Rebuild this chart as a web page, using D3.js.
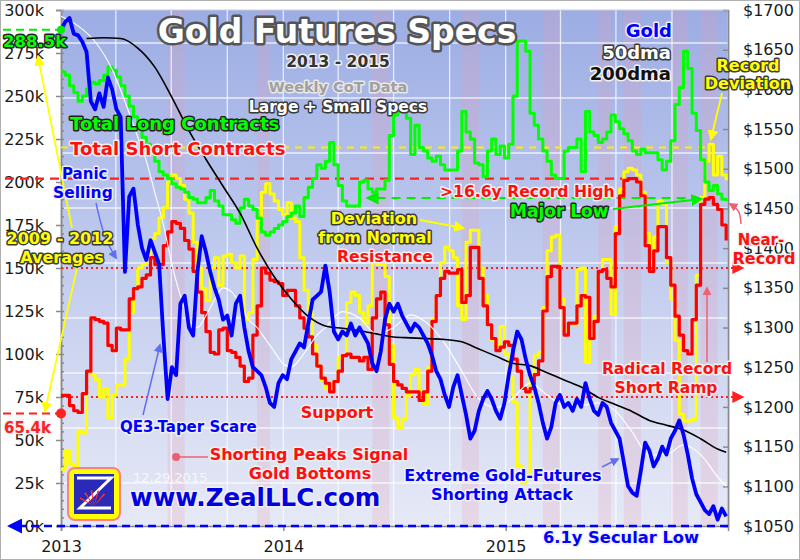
<!DOCTYPE html>
<html>
<head>
<meta charset="utf-8">
<script src="https://cdnjs.cloudflare.com/ajax/libs/d3/7.8.5/d3.min.js"></script>
<style>
  body { margin: 0; background: #fff; }
  svg { display: block; }
</style>
</head>
<body>
<svg id="chart" width="800" height="560"></svg>
<script>
// weekly CoT data (thousands of contracts), one value a week from 2013-01-01
const weekStart = new Date(2013, 0, 1);
const longs = [264,262,256,252,247,250,254,258,257,259,
  262,267,265,261,256,250,244,238,232,226,
  222,220,212,206,204,202,199,197,196,194,
  191,190,188,188,191,195,189,186,181,181,
  178,176,185,190,186,184,179,171,169,171,
  173,175,177,180,182,186,180,191,197,202,
  210,208,212,223,210,198,189,186,186,186,
  200,201,196,194,196,196,201,227,239,245,
  243,237,216,233,220,218,214,212,215,210,
  207,207,207,218,241,229,225,211,210,203,
  218,225,216,221,214,222,250,282,282,276,
  240,233,225,218,212,204,202,202,218,220,
  220,225,206,241,229,227,223,225,229,239,
  235,231,228,224,218,216,219,217,217,217,
  213,207,212,224,245,255,276,266,240,230,
  213,200,195,198,193,190,189];
const shorts = [76,76,70,67,66,77,90,121,120,119,
  118,105,102,115,114,114,132,138,139,144,
  146,156,152,152,163,171,177,176,173,166,
  161,148,136,124,113,101,100,114,115,102,
  101,98,93,84,86,111,128,150,147,143,
  142,141,134,137,137,128,121,115,110,100,
  93,86,83,78,84,90,99,100,98,98,
  96,98,91,121,132,136,117,94,84,82,
  80,78,78,78,73,78,90,119,134,144,
  148,147,147,149,130,134,162,162,144,128,
  117,109,102,104,107,105,97,90,80,78,
  80,88,96,125,145,151,151,127,111,118,
  118,128,134,133,109,119,148,149,144,139,
  170,192,201,202,202,200,192,163,148,160,
  174,174,156,140,122,111,102,100,120,140,
  187,190,191,187,184,175,166];
const deviation = [33,44,36,34,55,54,90,88,85,75,
  80,63,76,82,82,97,124,138,150,152,
  157,167,170,179,185,200,204,202,198,190,
  182,165,150,138,131,150,156,140,157,158,
  153,150,157,120,124,155,178,194,199,193,
  189,184,181,188,179,177,156,137,125,105,
  93,85,80,78,84,98,99,130,136,134,
  124,118,128,153,152,152,145,105,63,57,
  62,76,88,91,78,71,92,120,134,153,
  162,160,156,128,120,165,172,172,150,134,
  117,108,105,116,100,87,72,35,25,30,
  88,99,101,127,160,168,169,132,114,118,
  117,149,150,95,110,122,148,155,155,123,
  174,196,206,208,207,204,194,170,154,168,
  189,187,153,132,108,65,61,61,62,146,
  191,212,222,204,215,204,201];
// gold price ($), weekly
const gold = [1675,1685,1690,1670,1668,1660,1647,1585,1575,1595,
  1578,1615,1600,1575,1565,1370,1465,1475,1430,1400,
  1385,1410,1395,1380,1290,1210,1250,1240,1330,1340,
  1300,1290,1370,1415,1395,1370,1350,1335,1310,1315,
  1290,1330,1340,1300,1270,1250,1245,1240,1225,1205,
  1200,1230,1240,1235,1260,1270,1280,1275,1305,1335,
  1340,1345,1378,1345,1295,1285,1295,1290,1305,1290,
  1300,1290,1280,1255,1245,1270,1310,1330,1320,1330,
  1315,1305,1295,1305,1300,1290,1280,1265,1245,1235,
  1215,1200,1225,1240,1215,1190,1160,1170,1195,1210,
  1220,1210,1195,1185,1205,1240,1270,1295,1285,1260,
  1240,1225,1205,1180,1160,1175,1205,1215,1200,1205,
  1195,1210,1200,1230,1210,1195,1190,1205,1200,1180,
  1170,1160,1130,1100,1092,1088,1120,1155,1145,1125,
  1135,1150,1140,1160,1170,1183,1165,1140,1110,1090,
  1080,1070,1065,1075,1058,1072,1062];
// moving averages, read at these week numbers
const ma50Weeks = [0,4,8,12,16,18,20,22,24,26,28,30,32,34,36,38,40,42,44,46,48,50,52,54,56,58,60,62,66,70,74,78,82,86,90,94,98,102,106,110,114,118,122,126,130,134,138,142,146,150,154,156];
const ma50 = [1692,1680,1660,1625,1570,1540,1510,1470,1430,1380,1340,1310,1300,1315,1335,1350,1345,1330,1310,1300,1285,1270,1255,1250,1260,1275,1290,1300,1320,1312,1292,1300,1316,1305,1280,1245,1210,1199,1211,1230,1215,1202,1202,1205,1195,1168,1139,1140,1152,1140,1112,1100];
const ma200Weeks = [6,10,14,18,22,26,30,34,38,42,46,50,54,58,62,66,70,74,78,82,86,90,94,98,102,106,110,114,118,122,126,130,134,138,142,146,150,154,156];
const ma200 = [1664,1665,1664,1652,1628,1590,1548,1512,1478,1444,1400,1364,1336,1314,1302,1299,1296,1292,1288,1287,1286,1285,1282,1273,1264,1255,1252,1243,1234,1225,1212,1203,1194,1183,1177,1171,1160,1147,1143];
// shorting-peak highlight bands (start week, end week)
const peakBands = [[25,29],[46,49],[73,77],[94,98],[113,117],[126,129],[132,136],[143,147],[150,154]];
const leftTicks = d3.range(0, 301, 25);
const rightTicks = d3.range(1050, 1701, 50);
const yearTicks = [2013, 2014, 2015];

const svg = d3.select('#chart');
const m = {left: 61, right: 728, top: 10, bottom: 526};
const wk = i => d3.timeDay.offset(weekStart, 7 * i);
const x = d3.scaleTime().domain([new Date(2013, 0, 1), new Date(2016, 0, 1)]).range([m.left, m.right]);
const yL = d3.scaleLinear().domain([0, 300]).range([m.bottom, m.top]);
const yR = d3.scaleLinear().domain([1050, 1700]).range([m.bottom, m.top]);

const defs = svg.append('defs');
const grad = defs.append('linearGradient').attr('id', 'bg').attr('x1', 0).attr('y1', 0).attr('x2', 0).attr('y2', 1);
grad.append('stop').attr('offset', '0%').attr('stop-color', '#9cade4');
grad.append('stop').attr('offset', '50%').attr('stop-color', '#c2ccee');
grad.append('stop').attr('offset', '100%').attr('stop-color', '#e6e9f6');

function marker(id, color) {
  defs.append('marker').attr('id', id).attr('viewBox', '0 0 10 10')
    .attr('refX', 8).attr('refY', 5).attr('markerWidth', 6).attr('markerHeight', 6)
    .attr('orient', 'auto-start-reverse')
    .append('path').attr('d', 'M0,0L10,5L0,10z').attr('fill', color);
}
marker('aY', '#ffff00');
marker('aR', '#ff2020');
marker('aRp', '#f06070');
marker('aG', '#00ee00');
marker('aB', '#6070ee');
marker('aBd', '#0000ff');

svg.append('rect').attr('x', 0.5).attr('y', 0.5).attr('width', 799).attr('height', 559)
  .attr('fill', '#fff').attr('stroke', '#b0b0b0');

// plot background
svg.append('rect').attr('x', m.left).attr('y', m.top)
  .attr('width', m.right - m.left).attr('height', m.bottom - m.top).attr('fill', 'url(#bg)');

svg.append('g').selectAll('rect').data(peakBands).enter().append('rect')
  .attr('x', d => x(wk(d[0])))
  .attr('width', d => x(wk(d[1])) - x(wk(d[0])))
  .attr('y', m.top).attr('height', m.bottom - m.top)
  .attr('fill', '#e89ab0').attr('opacity', 0.22);

// grid
const grid = svg.append('g').attr('stroke', '#ffffff').attr('stroke-opacity', 0.75).attr('stroke-width', 1.3);
grid.selectAll('.v').data(x.ticks(d3.timeMonth.every(3))).enter().append('line')
  .attr('x1', d => x(d)).attr('x2', d => x(d)).attr('y1', m.top).attr('y2', m.bottom);
grid.selectAll('.h').data(d3.range(m.top + 33, m.bottom, 55)).enter().append('line')
  .attr('x1', m.left).attr('x2', m.right).attr('y1', d => d).attr('y2', d => d);

// axes
svg.append('g').attr('transform', `translate(${m.left},0)`)
  .call(d3.axisLeft(yL).tickValues(leftTicks).tickFormat(d => d + 'k').tickSize(5).tickPadding(12));
svg.append('g').attr('transform', `translate(${m.left},0)`)
  .call(d3.axisRight(yL).tickValues(d3.range(0, 301, 5)).tickFormat('').tickSize(3));
svg.append('g').attr('transform', `translate(${m.right},0)`)
  .call(d3.axisLeft(yR).tickValues(rightTicks).tickFormat('').tickSize(5));
svg.append('g').attr('transform', `translate(${m.right},0)`)
  .call(d3.axisRight(yR).tickValues(rightTicks).tickFormat(d => '$' + d).tickSize(0).tickPadding(15));
svg.append('g').attr('transform', `translate(0,${m.bottom})`)
  .call(d3.axisBottom(x).tickValues(yearTicks.map(y => new Date(y, 0, 1))).tickFormat(d3.timeFormat('%Y')).tickSize(5).tickPadding(10));
svg.selectAll('.domain, .tick line').attr('stroke', '#8a8a8a').attr('stroke-width', 1.5);
svg.selectAll('.tick text').attr('font-family', 'DejaVu Sans, Verdana, sans-serif')
  .attr('font-size', 16).attr('fill', '#1a1a1a');
svg.append('line').attr('x1', m.left).attr('x2', m.right).attr('y1', m.top).attr('y2', m.top)
  .attr('stroke', '#c8cde0');

// reference lines
function hline(y, x1, x2, color, dash, w, end) {
  const l = svg.append('line').attr('x1', x1).attr('x2', x2).attr('y1', y).attr('y2', y)
    .attr('stroke', color).attr('stroke-width', w).attr('stroke-dasharray', dash);
  if (end) l.attr('marker-end', `url(#${end})`);
  return l;
}
hline(yL(220), m.left, x(wk(152)), '#ffee00', '7,6', 2);
hline(yL(202), 5, x(wk(132)), '#ff2020', '9,6', 2.2);
hline(yL(150), m.left, 742, '#ff2020', '2,3', 2, 'aR');
hline(yL(75), m.left, 742, '#ff2020', '2,3', 2, 'aR');
hline(yL(288.5), 3, m.left, '#00ee00', '8,5', 2);
hline(yL(65.4), 3, m.left, '#ff2020', '8,5', 2);
hline(yL(190.7), x(wk(150)), x(wk(72)), '#00ee00', '9,6', 2.2, 'aG');
hline(yR(1050), m.right, 10, '#0000ff', '8,5', 2.5, 'aBd');

// series
const stepL = d3.line().x((d, i) => x(wk(i))).y(d => yL(d)).curve(d3.curveStepAfter);
const lineR = d3.line().x(d => x(wk(d[0]))).y(d => yR(d[1]));
function drawLine(path, color, w) {
  svg.append('path').attr('d', path).attr('fill', 'none')
    .attr('stroke', color).attr('stroke-width', w).attr('stroke-linejoin', 'round');
}
drawLine(stepL(deviation), '#ffff00', 3);
drawLine(stepL(longs), '#00ff00', 3);
drawLine(stepL(shorts), '#ff0000', 3.2);
drawLine(lineR.curve(d3.curveMonotoneX)(ma50Weeks.map((w, i) => [w, ma50[i]])), '#ffffff', 1.1);
drawLine(lineR.curve(d3.curveMonotoneX)(ma200Weeks.map((w, i) => [w, ma200[i]])), '#000000', 1.6);
drawLine(lineR.curve(d3.curveLinear)(gold.map((g, i) => [i, g])), '#0000ff', 3.8);

// dots
svg.append('circle').attr('cx', m.left).attr('cy', yL(288.5)).attr('r', 4).attr('fill', '#00ee00');
svg.append('circle').attr('cx', m.left).attr('cy', yL(65.4)).attr('r', 5).attr('fill', '#ff2020');

// annotation arrows
function arrow(pts, color, mk, w) {
  svg.append('path').attr('d', d3.line().curve(d3.curveBasis)(pts)).attr('fill', 'none')
    .attr('stroke', color).attr('stroke-width', w || 1.5).attr('marker-end', `url(#${mk})`);
}
arrow([[72, 228], [38, 57]], '#ffff00', 'aY', 1.8);
arrow([[77, 268], [45, 411]], '#ffff00', 'aY', 1.8);
arrow([[96, 203], [104, 238], [116, 258]], '#6070ee', 'aB');
arrow([[143, 415], [160, 345]], '#6070ee', 'aB');
arrow([[420, 220], [463, 228]], '#ffff00', 'aY', 1.8);
arrow([[613, 209], [701, 199]], '#00ee00', 'aG', 2);
arrow([[602, 467], [618, 459]], '#6070ee', 'aB');
arrow([[707, 362], [707, 288]], '#f06070', 'aRp');
arrow([[741, 224], [740, 210], [730, 204]], '#f06070', 'aRp');
arrow([[722, 93], [711, 139]], '#ffff00', 'aY', 1.8);
svg.append('line').attr('x1', x(wk(27))).attr('x2', 208).attr('y1', 457).attr('y2', 457)
  .attr('stroke', '#f06070').attr('stroke-width', 1.5);
svg.append('circle').attr('cx', x(wk(27))).attr('cy', 457).attr('r', 4).attr('fill', '#e86070');

// logo
const logo = svg.append('g').attr('transform', 'translate(68,468)');
logo.append('rect').attr('width', 52).attr('height', 52).attr('rx', 7)
  .attr('fill', '#ffff00').attr('stroke', '#ff8080').attr('stroke-width', 2);
logo.append('rect').attr('x', 6).attr('y', 6).attr('width', 40).attr('height', 40).attr('fill', '#2a2ab8');
logo.append('path').attr('d', 'M9,10H43L12,40H43').attr('fill', 'none').attr('stroke', '#ffffff').attr('stroke-width', 3);
d3.range(5).forEach(k => {
  const a0 = Math.PI * (1.15 + k * 0.14), a1 = a0 + 0.11;
  logo.append('path').attr('d', `M26,38L${26 + 16 * Math.cos(a0)},${38 + 16 * Math.sin(a0)}L${26 + 16 * Math.cos(a1)},${38 + 16 * Math.sin(a1)}Z`)
    .attr('fill', '#ff3030');
});

// text
function label(t, px, py, o) {
  svg.append('text').attr('x', px).attr('y', py).text(t)
    .attr('text-anchor', o.anchor || 'start')
    .attr('font-family', o.font || 'DejaVu Sans, Verdana, sans-serif')
    .attr('font-weight', o.weight || 'bold')
    .attr('font-size', o.size || 16)
    .attr('fill', o.fill)
    .attr('stroke', o.stroke || 'none')
    .attr('stroke-width', o.sw || 3)
    .attr('stroke-linejoin', 'round')
    .attr('paint-order', 'stroke')
    .attr('opacity', o.opacity || 1);
}
const dark = '#3a3a3a', halo = '#f0f0f0';
label('Gold Futures Specs', 337, 43, {anchor: 'middle', size: 33, fill: '#ffffff', stroke: '#555', sw: 5});
label('2013 - 2015', 338, 67, {anchor: 'middle', size: 15.5, fill: '#333', stroke: halo});
label('Weekly CoT Data', 338, 92, {anchor: 'middle', size: 14.5, fill: '#a0a0a0', stroke: '#e8e8e8'});
label('Large + Small Specs', 338, 112, {anchor: 'middle', size: 15.5, fill: '#ffffff', stroke: dark});
label('Gold', 672, 37, {anchor: 'end', size: 18, fill: '#0000ff', stroke: halo});
label('50dma', 671, 59, {anchor: 'end', size: 18, fill: '#ffffff', stroke: dark});
label('200dma', 671, 80, {anchor: 'end', size: 18, fill: '#111', stroke: halo});

label('Total Long Contracts', 70, 130, {size: 18, fill: '#00ff00', stroke: '#222'});
label('Total Short Contracts', 70, 155, {size: 18, fill: '#ff1010', stroke: halo});
label('288.5k', 3, 47, {size: 16.5, fill: '#00ff00', stroke: '#222'});
label('65.4k', 4, 433, {size: 15, fill: '#ff2020', stroke: halo});
label('Panic', 62, 179, {size: 15, fill: '#0000ff', stroke: halo});
label('Selling', 53, 198, {size: 15.5, fill: '#0000ff', stroke: halo});
label('2009 - 2012', 60, 244, {anchor: 'middle', size: 16, fill: '#ffff00', stroke: dark});
label('Averages', 62, 263, {anchor: 'middle', size: 16, fill: '#ffff00', stroke: dark});
label('>16.6y Record High', 440, 197, {size: 15.6, fill: '#ff1010', stroke: halo});
label('Major Low', 510, 217, {size: 17, fill: '#00ff00', stroke: '#222'});
label('Deviation', 374, 224, {anchor: 'middle', size: 16, fill: '#ffff00', stroke: dark});
label('from Normal', 375, 243, {anchor: 'middle', size: 16, fill: '#ffff00', stroke: dark});
label('Resistance', 385, 262, {anchor: 'middle', size: 15.7, fill: '#ff1010', stroke: halo});
label('Support', 337, 418, {anchor: 'middle', size: 16, fill: '#ff1010', stroke: halo});
label('QE3-Taper Scare', 120, 432, {size: 15, fill: '#0000ff', stroke: halo});
label('Shorting Peaks Signal', 309, 460, {anchor: 'middle', size: 16, fill: '#ff1010', stroke: halo});
label('Gold Bottoms', 310, 479, {anchor: 'middle', size: 16, fill: '#ff1010', stroke: halo});
label('12.29.2015', 133, 482, {size: 13, fill: '#ffffff', opacity: 0.75, weight: 'normal'});
label('www.ZealLLC.com', 130, 506, {size: 24.5, fill: '#0000e0', stroke: halo});
label('Extreme Gold-Futures', 503, 481, {anchor: 'middle', size: 16, fill: '#0000ff', stroke: halo});
label('Shorting Attack', 502, 500, {anchor: 'middle', size: 16, fill: '#0000ff', stroke: halo});
label('6.1y Secular Low', 621, 543, {anchor: 'middle', size: 16.3, fill: '#0000ff', stroke: halo});
label('Radical Record', 667, 374, {anchor: 'middle', size: 15.5, fill: '#ff1010', stroke: halo});
label('Short Ramp', 666, 393, {anchor: 'middle', size: 15.5, fill: '#ff1010', stroke: halo});
label('Near-', 761, 245, {anchor: 'middle', size: 15, fill: '#ff1010', stroke: halo});
label('Record', 764, 264, {anchor: 'middle', size: 16, fill: '#ff1010', stroke: halo});
label('Record', 748, 71, {anchor: 'middle', size: 16, fill: '#ffff00', stroke: dark});
label('Deviation', 748, 89, {anchor: 'middle', size: 16, fill: '#ffff00', stroke: dark});
</script>
</body>
</html>
